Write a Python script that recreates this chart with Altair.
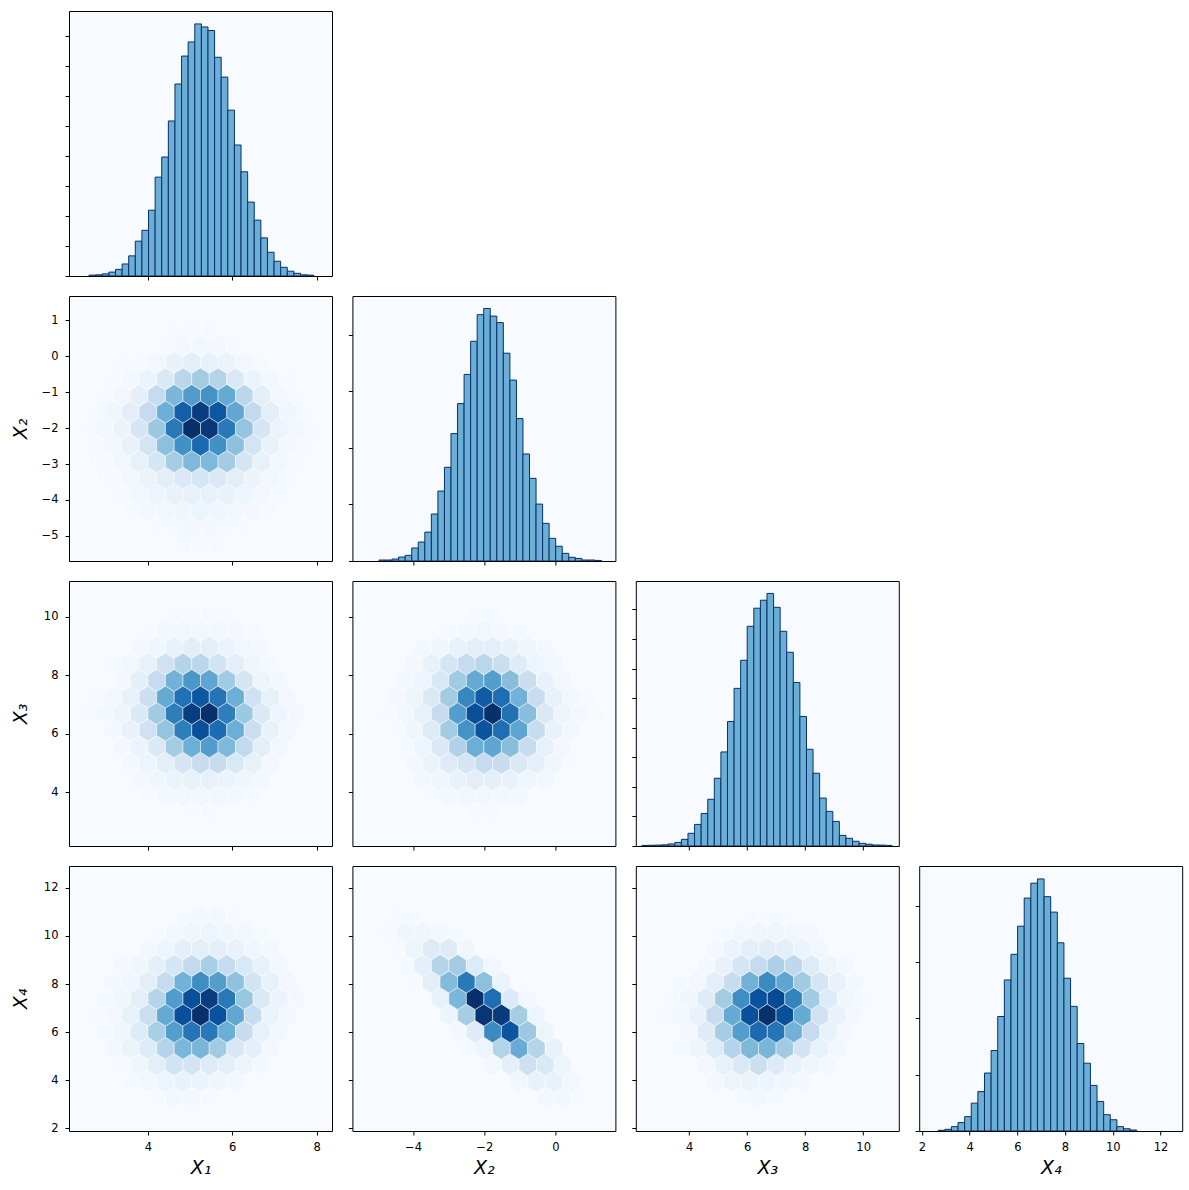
import altair as alt
import pandas as pd

# ---------------- data ----------------
VARS = ["X1", "X2", "X3", "X4"]
TITLES = {"X1": "X₁", "X2": "X₂", "X3": "X₃", "X4": "X₄"}
LIMITS = {"X1": (2.134, 8.363), "X2": (-5.70, 1.68), "X3": (2.16, 11.23), "X4": (1.89, 12.91)}
XTICKS = {"X1": [4, 6, 8], "X2": [-4, -2, 0], "X3": [4, 6, 8, 10], "X4": [2, 4, 6, 8, 10, 12]}
YTICKS = {"X2": [-5, -4, -3, -2, -1, 0, 1], "X3": [4, 6, 8, 10], "X4": [2, 4, 6, 8, 10, 12]}

HIST_START = {"X1": 2.609, "X2": -4.953, "X3": 2.371, "X4": 2.684}
HIST_WIDTH = {"X1": 0.1565, "X2": 0.1836, "X3": 0.227, "X4": 0.2774}
HIST_X1 = [30, 40, 70, 130, 220, 400, 670, 1160, 1520, 2190, 3290, 3960, 5160, 6390, 7320, 7790, 8390,
           8290, 8170, 7280, 6620, 5520, 4360, 3470, 2460, 1860, 1270, 790, 490, 290, 160, 90, 40, 30]
HIST_X2 = [35, 35, 70, 140, 200, 460, 670, 1020, 1660, 2470, 3310, 4500, 5560, 6590, 7760, 8700, 8920,
           8650, 8420, 7340, 6390, 5030, 3780, 2920, 2010, 1330, 800, 520, 270, 130, 90, 35, 35, 20]
HIST_X3 = [20, 25, 30, 40, 70, 120, 225, 430, 730, 1100, 1580, 2290, 3180, 4210, 5330, 6280, 7430, 8040,
           8310, 8540, 8070, 7260, 6550, 5530, 4380, 3270, 2460, 1620, 1170, 830, 360, 260, 160, 90, 60,
           35, 30, 20]
HIST_X4 = [25, 60, 155, 300, 510, 990, 1400, 2060, 2860, 4070, 5370, 6280, 7280, 8280, 8810, 8960, 8330,
           7780, 6690, 5430, 4430, 3110, 2410, 1620, 1050, 580, 400, 155, 80, 35]
HIST_COUNTS = {"X1": HIST_X1, "X2": HIST_X2, "X3": HIST_X3, "X4": HIST_X4}
HIST_YMAX = {"X1": 8820, "X2": 9360, "X3": 8960, "X4": 9420}
HIST_YTICKS = {"X1": [0, 1000, 2000, 3000, 4000, 5000, 6000, 7000, 8000],
               "X2": [0, 2000, 4000, 6000, 8000],
               "X3": [0, 1000, 2000, 3000, 4000, 5000, 6000, 7000, 8000],
               "X4": [0, 2000, 4000, 6000, 8000]}

# hexbin cell intensities (percent of panel max); rows from bottom, even rows 16 cells, odd rows 15
HEX_X1_X2 = [
    [0] * 16,
    [0, 0, 0, 0, 0, 0, 1, 1, 1, 0, 0, 0, 0, 0, 0],
    [0, 0, 0, 0, 0, 1, 1, 2, 2, 1, 1, 0, 0, 0, 0, 0],
    [0, 0, 0, 1, 2, 3, 4, 5, 4, 3, 2, 1, 0, 0, 0],
    [0, 0, 0, 1, 3, 5, 7, 8, 8, 7, 5, 3, 1, 0, 0, 0],
    [0, 0, 1, 3, 6, 10, 14, 17, 14, 10, 6, 3, 1, 0, 0],
    [0, 0, 1, 3, 8, 17, 35, 45, 45, 36, 17, 8, 3, 1, 0, 0],
    [0, 1, 2, 7, 18, 42, 63, 78, 63, 42, 18, 7, 2, 1, 0],
    [0, 1, 3, 6, 17, 38, 72, 100, 97, 72, 40, 17, 6, 3, 1, 0],
    [0, 1, 4, 10, 25, 50, 82, 95, 85, 53, 26, 10, 4, 1, 0],
    [0, 0, 1, 3, 9, 25, 46, 58, 62, 52, 28, 10, 3, 1, 0, 0],
    [0, 0, 1, 2, 6, 14, 29, 36, 30, 14, 6, 2, 1, 0, 0],
    [0, 0, 0, 1, 1, 3, 7, 10, 8, 6, 3, 1, 0, 0, 0, 0],
    [0, 0, 0, 0, 0, 1, 2, 3, 2, 1, 0, 0, 0, 0, 0],
    [0, 0, 0, 0, 0, 0, 1, 1, 1, 0, 0, 0, 0, 0, 0, 0],
    [0] * 15,
    [0] * 16,
]
HEX_X1_X3 = [
    [0] * 16,
    [0] * 15,
    [0, 0, 0, 0, 0, 0, 0, 1, 1, 0, 0, 0, 0, 0, 0, 0],
    [0, 0, 0, 0, 1, 2, 3, 3, 3, 2, 1, 0, 0, 0, 0],
    [0, 0, 0, 0, 2, 4, 6, 8, 8, 6, 4, 2, 0, 0, 0, 0],
    [0, 0, 0, 2, 5, 10, 17, 24, 24, 15, 8, 3, 0, 0, 0],
    [0, 0, 0, 2, 6, 14, 36, 50, 58, 45, 26, 10, 3, 0, 0, 0],
    [0, 0, 2, 7, 20, 40, 70, 88, 77, 50, 23, 7, 3, 0, 0],
    [0, 1, 2, 5, 14, 37, 70, 95, 100, 70, 38, 14, 5, 2, 0, 0],
    [0, 1, 3, 8, 22, 52, 75, 85, 74, 50, 20, 8, 3, 0, 0],
    [0, 0, 0, 2, 9, 25, 48, 60, 54, 37, 17, 5, 2, 0, 0, 0],
    [0, 0, 1, 3, 8, 20, 30, 28, 19, 10, 4, 1, 0, 0, 0],
    [0, 0, 0, 0, 2, 4, 7, 10, 10, 6, 3, 2, 0, 0, 0, 0],
    [0, 0, 0, 0, 1, 2, 3, 3, 3, 2, 1, 0, 0, 0, 0],
    [0, 0, 0, 0, 0, 0, 1, 1, 1, 1, 0, 0, 0, 0, 0, 0],
    [0] * 15,
    [0] * 16,
]
HEX_X2_X3 = [
    [0] * 16,
    [0] * 15,
    [0, 0, 0, 0, 0, 0, 0, 1, 1, 0, 0, 0, 0, 0, 0, 0],
    [0, 0, 0, 0, 1, 2, 3, 3, 2, 2, 0, 0, 0, 0, 0],
    [0, 0, 0, 0, 2, 4, 7, 10, 9, 7, 4, 2, 0, 0, 0, 0],
    [0, 0, 0, 2, 6, 13, 17, 25, 24, 14, 9, 4, 1, 0, 0],
    [0, 0, 0, 1, 5, 14, 32, 50, 54, 43, 24, 8, 3, 0, 0, 0],
    [0, 0, 1, 4, 13, 36, 62, 86, 76, 54, 24, 7, 3, 0, 0],
    [0, 0, 1, 3, 8, 25, 57, 88, 100, 75, 43, 14, 5, 2, 1, 0],
    [0, 0, 2, 5, 14, 36, 67, 83, 76, 48, 24, 8, 3, 1, 0],
    [0, 0, 0, 2, 5, 15, 37, 52, 57, 43, 23, 7, 3, 0, 0, 0],
    [0, 0, 0, 2, 8, 17, 25, 29, 23, 12, 5, 2, 0, 0, 0],
    [0, 0, 0, 0, 2, 4, 8, 10, 10, 7, 4, 2, 0, 0, 0, 0],
    [0, 0, 0, 0, 0, 1, 2, 3, 2, 1, 0, 0, 0, 0, 0],
    [0, 0, 0, 0, 0, 0, 0, 1, 1, 0, 0, 0, 0, 0, 0, 0],
    [0] * 15,
    [0] * 16,
]
HEX_X1_X4 = [
    [0] * 16,
    [0] * 15,
    [0, 0, 0, 0, 0, 1, 2, 2, 1, 0, 0, 0, 0, 0, 0, 0],
    [0, 0, 0, 1, 3, 5, 7, 6, 4, 2, 0, 0, 0, 0, 0],
    [0, 0, 0, 1, 4, 10, 19, 18, 13, 10, 5, 2, 0, 0, 0, 0],
    [0, 0, 2, 6, 13, 30, 46, 47, 37, 16, 9, 3, 0, 0, 0],
    [0, 0, 1, 4, 13, 34, 57, 74, 72, 50, 24, 8, 3, 0, 0, 0],
    [0, 1, 2, 8, 23, 52, 88, 100, 87, 53, 24, 6, 2, 0, 0],
    [0, 0, 1, 4, 10, 30, 58, 88, 95, 72, 39, 14, 6, 2, 0, 0],
    [0, 0, 2, 4, 10, 25, 48, 64, 57, 41, 19, 8, 3, 0, 0],
    [0, 0, 0, 2, 4, 9, 17, 26, 34, 25, 15, 8, 3, 0, 0, 0],
    [0, 0, 0, 0, 3, 5, 9, 10, 10, 7, 4, 2, 0, 0, 0],
    [0, 0, 0, 0, 0, 1, 2, 4, 5, 4, 3, 1, 0, 0, 0, 0],
    [0, 0, 0, 0, 0, 0, 1, 2, 2, 1, 0, 0, 0, 0, 0],
    [0] * 16,
    [0] * 15,
    [0] * 16,
]
HEX_X2_X4 = [
    [0] * 16,
    [0] * 15,
    [0, 0, 0, 0, 0, 0, 0, 0, 0, 0, 0, 2, 2, 1, 0, 0],
    [0, 0, 0, 0, 0, 0, 0, 0, 0, 3, 7, 7, 3, 0, 0],
    [0, 0, 0, 0, 0, 0, 0, 0, 3, 9, 21, 15, 5, 0, 0, 0],
    [0, 0, 0, 0, 0, 0, 1, 5, 31, 51, 30, 8, 0, 0, 0],
    [0, 0, 0, 0, 0, 0, 2, 12, 65, 86, 38, 5, 0, 0, 0, 0],
    [0, 0, 0, 0, 0, 5, 35, 98, 96, 35, 5, 0, 0, 0, 0],
    [0, 0, 0, 0, 0, 8, 46, 100, 76, 13, 2, 0, 0, 0, 0, 0],
    [0, 0, 0, 1, 10, 44, 72, 42, 6, 0, 0, 0, 0, 0, 0],
    [0, 0, 0, 1, 9, 30, 36, 13, 3, 0, 0, 0, 0, 0, 0, 0],
    [0, 0, 1, 5, 13, 12, 4, 0, 0, 0, 0, 0, 0, 0, 0],
    [0, 0, 1, 4, 4, 2, 1, 0, 0, 0, 0, 0, 0, 0, 0, 0],
    [0, 0, 1, 1, 0, 0, 0, 0, 0, 0, 0, 0, 0, 0, 0],
    [0] * 16,
    [0] * 15,
    [0] * 16,
]
HEX_X3_X4 = [
    [0] * 16,
    [0] * 15,
    [0, 0, 0, 0, 0, 0, 1, 2, 1, 0, 0, 0, 0, 0, 0, 0],
    [0, 0, 0, 0, 2, 5, 6, 5, 4, 2, 0, 0, 0, 0, 0],
    [0, 0, 0, 0, 3, 8, 15, 22, 13, 7, 4, 2, 0, 0, 0, 0],
    [0, 0, 1, 5, 13, 30, 45, 47, 37, 19, 8, 3, 0, 0, 0],
    [0, 0, 0, 3, 12, 35, 57, 78, 74, 48, 25, 8, 2, 0, 0, 0],
    [0, 1, 2, 7, 24, 52, 88, 100, 88, 52, 20, 7, 2, 0, 0],
    [0, 0, 1, 4, 12, 36, 64, 87, 90, 68, 37, 13, 4, 1, 0, 0],
    [0, 0, 1, 3, 10, 24, 48, 65, 54, 37, 17, 7, 2, 0, 0],
    [0, 0, 0, 0, 2, 7, 17, 25, 33, 27, 13, 5, 2, 0, 0, 0],
    [0, 0, 0, 0, 2, 6, 10, 11, 10, 6, 3, 0, 0, 0, 0],
    [0, 0, 0, 0, 0, 1, 3, 4, 4, 3, 2, 0, 0, 0, 0, 0],
    [0, 0, 0, 0, 0, 0, 1, 1, 1, 0, 0, 0, 0, 0, 0],
    [0] * 16,
    [0] * 15,
    [0] * 16,
]
HEX_GRIDS = {("X1", "X2"): HEX_X1_X2, ("X1", "X3"): HEX_X1_X3, ("X2", "X3"): HEX_X2_X3,
             ("X1", "X4"): HEX_X1_X4, ("X2", "X4"): HEX_X2_X4, ("X3", "X4"): HEX_X3_X4}

BLUES = ["#f7fbff", "#deebf7", "#c6dbef", "#9ecae1", "#6baed6", "#4292c6", "#2171b5", "#08519c", "#08306b"]
BLUES_DOMAIN = [0, 12.5, 25, 37.5, 50, 62.5, 75, 87.5, 100]

# ---------------- layout / style ----------------
W, H = 263, 265
NX, NY = 15, 8
HEX_H = 2.0 / 3.0 * H / NY
HEX_HALF_W = (W / NX / 2.0) / (HEX_H / 2.0)
HEX_PATH = "M0,-1L{a:.4f},-0.5L{a:.4f},0.5L0,1L-{a:.4f},0.5L-{a:.4f},-0.5Z".format(a=HEX_HALF_W)
HEX_SIZE = HEX_H ** 2


def x_axis(var, bottom):
    if bottom:
        return alt.Axis(values=XTICKS[var], labels=True, title=TITLES[var], titlePadding=6)
    return alt.Axis(values=XTICKS[var], labels=False, title=None)


def y_axis(var, left):
    if left:
        return alt.Axis(values=YTICKS[var], labels=True, title=TITLES[var],
                        minExtent=24, maxExtent=24, titlePadding=15)
    return alt.Axis(values=YTICKS[var], labels=False, title=None)


def hex_panel(xv, yv, bottom, left):
    x0, x1 = LIMITS[xv]
    y0, y1 = LIMITS[yv]
    sx = (x1 - x0) / NX
    sy = (y1 - y0) / NY
    recs = []
    for r, vals in enumerate(HEX_GRIDS[(xv, yv)]):
        off = 0.0 if r % 2 == 0 else 0.5
        for i, v in enumerate(vals):
            if v > 0:
                recs.append({"x": x0 + (i + off) * sx, "y": y0 + r * sy / 2.0, "v": v})
    df = pd.DataFrame(recs)
    return alt.Chart(df).mark_point(
        shape=HEX_PATH, size=HEX_SIZE, filled=True, opacity=1,
        stroke="white", strokeWidth=0.6, strokeOpacity=0.8, clip=True
    ).encode(
        x=alt.X("x:Q", scale=alt.Scale(domain=[x0, x1], nice=False, zero=False), axis=x_axis(xv, bottom)),
        y=alt.Y("y:Q", scale=alt.Scale(domain=[y0, y1], nice=False, zero=False), axis=y_axis(yv, left)),
        color=alt.Color("v:Q", scale=alt.Scale(domain=BLUES_DOMAIN, range=BLUES, interpolate="rgb"),
                        legend=None),
    ).properties(width=W, height=H)


def hist_panel(var, bottom):
    x0, x1 = LIMITS[var]
    start, width = HIST_START[var], HIST_WIDTH[var]
    recs = []
    for k, c in enumerate(HIST_COUNTS[var]):
        recs.append({"b0": start + k * width, "b1": start + (k + 1) * width, "c": c, "z": 0})
    df = pd.DataFrame(recs)
    return alt.Chart(df).mark_bar(
        fill="#6baed6", stroke="#08306b", strokeWidth=1, opacity=1, clip=True
    ).encode(
        x=alt.X("b0:Q", scale=alt.Scale(domain=[x0, x1], nice=False, zero=False), axis=x_axis(var, bottom)),
        x2="b1:Q",
        y=alt.Y("c:Q", scale=alt.Scale(domain=[0, HIST_YMAX[var]], nice=False),
                axis=alt.Axis(values=HIST_YTICKS[var], labels=False, title=None)),
        y2="z:Q",
    ).properties(width=W, height=H)


def blank_panel():
    df = pd.DataFrame({"a": [0]})
    return alt.Chart(df).mark_point(opacity=0).encode(
        x=alt.X("a:Q", axis=None), y=alt.Y("a:Q", axis=None)
    ).properties(width=W, height=H, view=alt.ViewBackground(strokeOpacity=0, fillOpacity=0))


panels = []
for ri, yv in enumerate(VARS):
    for ci, xv in enumerate(VARS):
        bottom = ri == 3
        if ci > ri:
            panels.append(blank_panel())
        elif ci == ri:
            panels.append(hist_panel(xv, bottom))
        else:
            panels.append(hex_panel(xv, yv, bottom, ci == 0))

chart = alt.concat(
    *panels, columns=4, spacing={"row": 20, "column": 20.4}, bounds="flush"
).properties(
    padding={"left": 10, "top": 10, "right": 5, "bottom": 5}, background="white"
).configure_view(
    stroke="black", strokeWidth=1, fill="#f7fbff"
).configure_axis(
    domain=False, grid=False, ticks=True, tickSize=4, tickWidth=1, tickColor="black",
    labelFont="DejaVu Sans", labelFontSize=11.5, labelColor="black", labelPadding=6, labelFlush=False,
    titleFont="DejaVu Sans", titleFontSize=19, titleFontStyle="italic", titleFontWeight="normal",
    titleColor="black"
).configure_axisY(labelPadding=7)

chart.save("out.html", embed_options={"renderer": "svg", "actions": False})
